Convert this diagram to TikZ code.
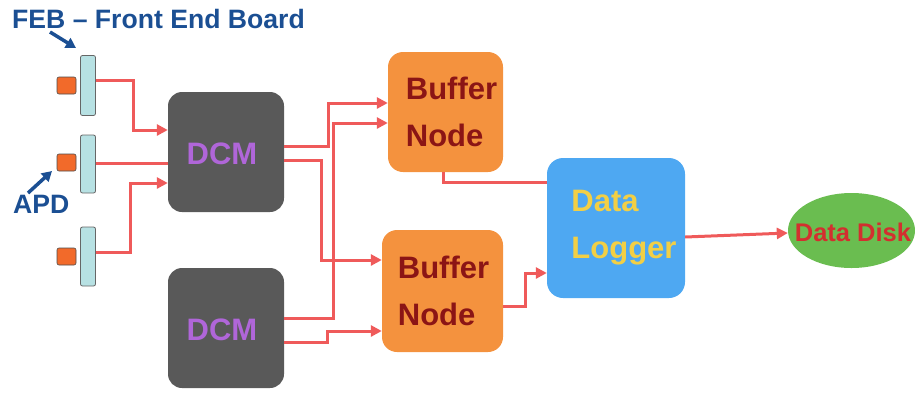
\documentclass[tikz,border=0pt]{standalone}
\usepackage{fontspec}
\setmainfont{Liberation Sans}
\usetikzlibrary{arrows.meta,shapes.geometric}
\definecolor{febblue}{HTML}{1B4F93}
\definecolor{boardfill}{HTML}{B7E1E3}
\definecolor{apdfill}{HTML}{F26A2A}
\definecolor{dcmfill}{HTML}{595959}
\definecolor{dcmtext}{HTML}{B066D9}
\definecolor{buffill}{HTML}{F4923E}
\definecolor{buftext}{HTML}{8B1515}
\definecolor{dlfill}{HTML}{4EA8F2}
\definecolor{dltext}{HTML}{F2CF45}
\definecolor{diskfill}{HTML}{6ABD50}
\definecolor{disktext}{HTML}{D32F2F}
\definecolor{sigred}{HTML}{EF5A5A}
\tikzset{
  board/.style={draw=black!60,fill=boardfill,rounded corners=2pt,minimum width=15pt,line width=0.8pt,inner sep=0pt},
  apd/.style={draw=black!70,fill=apdfill,rounded corners=2pt,minimum width=19pt,minimum height=17pt,line width=0.6pt,inner sep=0pt},
  dcmbox/.style={fill=dcmfill,rounded corners=14pt,minimum width=116pt,minimum height=120pt,inner sep=0pt},
  bufbox/.style={fill=buffill,rounded corners=15pt,inner sep=0pt,align=left,text=buftext,font=\bfseries\fontsize{31}{47}\selectfont},
  dlbox/.style={fill=dlfill,rounded corners=16pt,minimum width=138pt,minimum height=140pt,inner sep=0pt,align=left,text=dltext,font=\bfseries\fontsize{31}{47}\selectfont},
  sig/.style={draw=sigred,line width=3pt},
  sigarrow/.style={sig,-{Triangle[length=11pt,width=11pt]}},
  bluearrow/.style={draw=febblue,line width=3.5pt,-{Triangle[length=10pt,width=11pt]}},
  lbl/.style={text=febblue,font=\bfseries\fontsize{26.6}{30}\selectfont,inner sep=0pt}
}
\begin{document}
\begin{tikzpicture}[x=1pt,y=-1pt]
\useasboundingbox (0,0) rectangle (915,392);
% labels
\node[lbl,anchor=base west] (feblbl) at (12,28) {FEB – Front End Board};
\node[lbl,anchor=base west] (apdlbl) at (13,213) {APD};
% boards and APDs
\node[board,minimum height=60pt] (feb1) at (88,85.5) {};
\node[board,minimum height=58pt] (feb2) at (88,164) {};
\node[board,minimum height=59pt] (feb3) at (88,256.5) {};
\node[apd] (apd1) at (66.5,85.5) {};
\node[apd] (apd2) at (66.5,162.5) {};
\node[apd] (apd3) at (66.5,256.5) {};
\coordinate (febtip) at (76,48);
\coordinate (febtail) at (50,32);
\coordinate (apdtip) at (52,171);
\coordinate (apdtail) at (28,193);
\draw[bluearrow] (febtail) -- (febtip);
\draw[bluearrow] (apdtail) -- (apdtip);
% DCMs
\node[dcmbox] (dcm1) at (226,152) {};
\node[dcmbox] (dcm2) at (226,328) {};
\node[anchor=base,text=dcmtext,font=\bfseries\fontsize{31}{36}\selectfont,inner sep=0pt] (dcm1t) at (222,164) {DCM};
\node[anchor=base,text=dcmtext,font=\bfseries\fontsize{31}{36}\selectfont,inner sep=0pt] (dcm2t) at (222,340) {DCM};
% buffer nodes
\node[bufbox,minimum width=115pt,minimum height=120pt] (bn1) at (445.5,112) {\hspace*{12pt}Buffer\\\hspace*{12pt}Node};
\node[bufbox,minimum width=121pt,minimum height=122pt] (bn2) at (442.5,291) {\hspace*{2pt}Buffer\\\hspace*{2pt}Node};
% data logger
\node[dlbox] (dl) at (616,228) {\hspace*{16pt}Data\\\hspace*{16pt}Logger};
% disk
\node[ellipse,fill=diskfill,minimum width=127pt,minimum height=75pt,inner sep=0pt] (disk) at (851.5,230.5) {};
\node[text=disktext,font=\bfseries\fontsize{25.5}{30}\selectfont,inner sep=0pt,anchor=base] (disktxt) at (853,241) {Data Disk};
% FEB -> DCM
\draw[sigarrow] ([yshift=5.5pt]feb1.east) -| (133,130) -- (dcm1.west |- 0,130);
\draw[sig] ([yshift=1pt]feb2.east) -- (dcm1.west |- 0,163);
\draw[sigarrow] ([yshift=4.5pt]feb3.east) -| (130,183) -- (dcm1.west |- 0,183);
% DCM -> buffer nodes
\draw[sigarrow] (dcm1.east |- 0,146) -| (328,103) -- (bn1.west |- 0,103);
\draw[sigarrow] (dcm1.east |- 0,160) -| (321,260) -- (bn2.west |- 0,260);
\draw[sigarrow] (dcm2.east |- 0,318) -| (333,123) -- (bn1.west |- 0,123);
\draw[sigarrow] (dcm2.east |- 0,342) -| (327,331) -- (bn2.west |- 0,331);
% buffer -> logger
\draw[sig] (bn1.south -| 443,0) |- (dl.west |- 0,182);
\draw[sigarrow] (bn2.east |- 0,306) -| (525,273) -- (dl.west |- 0,273);
% logger -> disk
\draw[sigarrow] (dl.east |- 0,237) -- (disk.west |- 0,233);
\end{tikzpicture}
\end{document}
